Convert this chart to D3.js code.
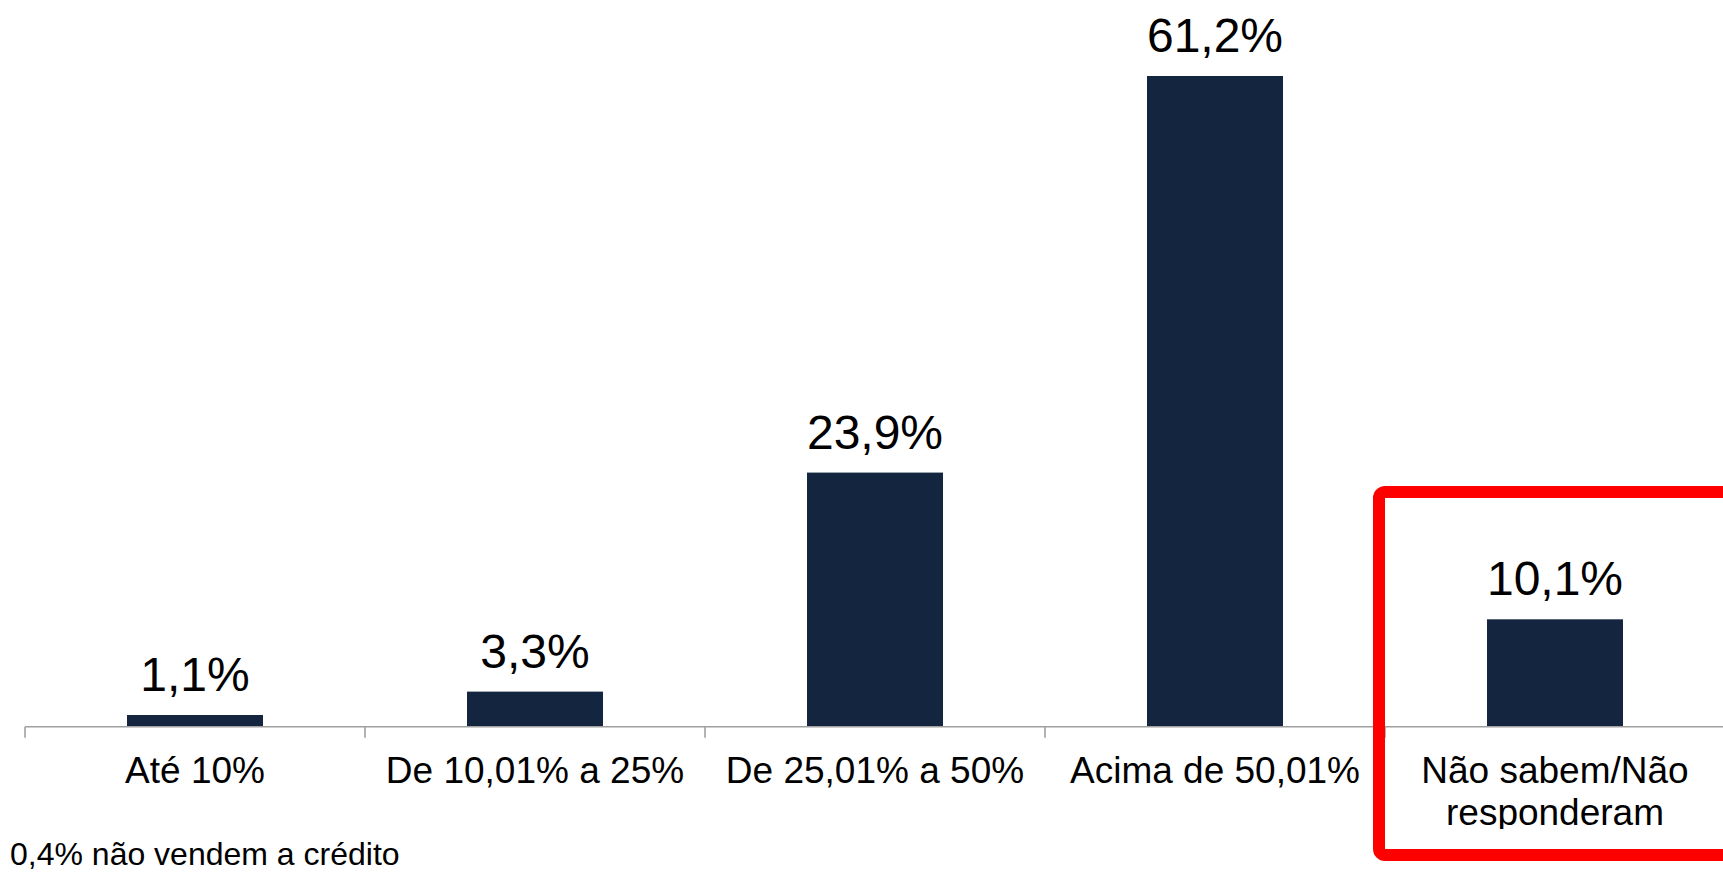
<!DOCTYPE html>
<html>
<head>
<meta charset="utf-8">
<script src="https://cdn.jsdelivr.net/npm/d3@7"></script>
<style>
  html, body { margin: 0; padding: 0; background: #ffffff; }
  svg { display: block; }
  text { font-family: "Liberation Sans", Arial, sans-serif; fill: #000; }
</style>
</head>
<body>
<svg id="chart" width="1723" height="872"></svg>
<script>
const categories = ["Até 10%", "De 10,01% a 25%", "De 25,01% a 50%", "Acima de 50,01%", "Não sabem/Não responderam"];
const categoryLines = [["Até 10%"], ["De 10,01% a 25%"], ["De 25,01% a 50%"], ["Acima de 50,01%"], ["Não sabem/Não", "responderam"]];
const values = [1.1, 3.3, 23.9, 61.2, 10.1];
const valueLabels = ["1,1%", "3,3%", "23,9%", "61,2%", "10,1%"];
const footnote = "0,4% não vendem a crédito";
const highlighted = ["Não sabem/Não responderam"];

const W = 1723, H = 872;
const svg = d3.select("#chart");
svg.append("rect").attr("width", W).attr("height", H).attr("fill", "#fff");

const x = d3.scaleBand().domain(categories).range([25, 1725]).paddingInner(0).paddingOuter(0);
const xBar = d3.scaleBand().domain(categories).range([25, 1725]).paddingInner(0.6).paddingOuter(0.3);
const y = d3.scaleLinear().domain([0, 61.2]).range([726.7, 76]);

// bars
svg.append("g").selectAll("rect").data(categories).join("rect")
  .attr("x", d => xBar(d))
  .attr("width", xBar.bandwidth())
  .attr("y", (d, i) => y(values[i]))
  .attr("height", (d, i) => y(0) - y(values[i]))
  .attr("fill", "#13253f");

// value labels
svg.append("g").selectAll("text").data(categories).join("text")
  .attr("x", d => xBar(d) + xBar.bandwidth() / 2)
  .attr("y", (d, i) => y(values[i]) - 24)
  .attr("text-anchor", "middle")
  .style("font-size", "48px")
  .text((d, i) => valueLabels[i]);

// axis line and ticks at band boundaries
const axisG = svg.append("g");
axisG.append("line")
  .attr("x1", x.range()[0]).attr("x2", W + 5)
  .attr("y1", y(0)).attr("y2", y(0))
  .attr("stroke", "#a0a0a0").attr("stroke-width", 1.6);
axisG.selectAll("line.tick").data(categories).join("line")
  .attr("class", "tick")
  .attr("x1", d => x(d)).attr("x2", d => x(d))
  .attr("y1", y(0)).attr("y2", y(0) + 11)
  .attr("stroke", "#a0a0a0").attr("stroke-width", 1.6);

// category labels (clipped at bottom like the original)
svg.append("clipPath").attr("id", "labclip")
  .append("rect").attr("x", 0).attr("y", 730).attr("width", W).attr("height", 99);
const labG = svg.append("g").attr("clip-path", "url(#labclip)");
labG.selectAll("text").data(categories).join("text")
  .attr("x", d => x(d) + x.bandwidth() / 2)
  .attr("y", 783)
  .attr("text-anchor", "middle")
  .style("font-size", "37px")
  .each(function(d, i) {
    const t = d3.select(this);
    categoryLines[i].forEach((ln, k) => {
      t.append("tspan").attr("x", x(d) + x.bandwidth() / 2).attr("dy", k === 0 ? 0 : 42).text(ln);
    });
  });

// highlight box
highlighted.forEach(c => {
  svg.append("rect")
    .attr("x", x(c) - 6)
    .attr("y", 492)
    .attr("width", 400)
    .attr("height", 363)
    .attr("rx", 6)
    .attr("fill", "none")
    .attr("stroke", "#ff0000")
    .attr("stroke-width", 12);
});

// footnote
svg.append("text")
  .attr("x", 10).attr("y", 865)
  .style("font-size", "32px")
  .text(footnote);
</script>
</body>
</html>
